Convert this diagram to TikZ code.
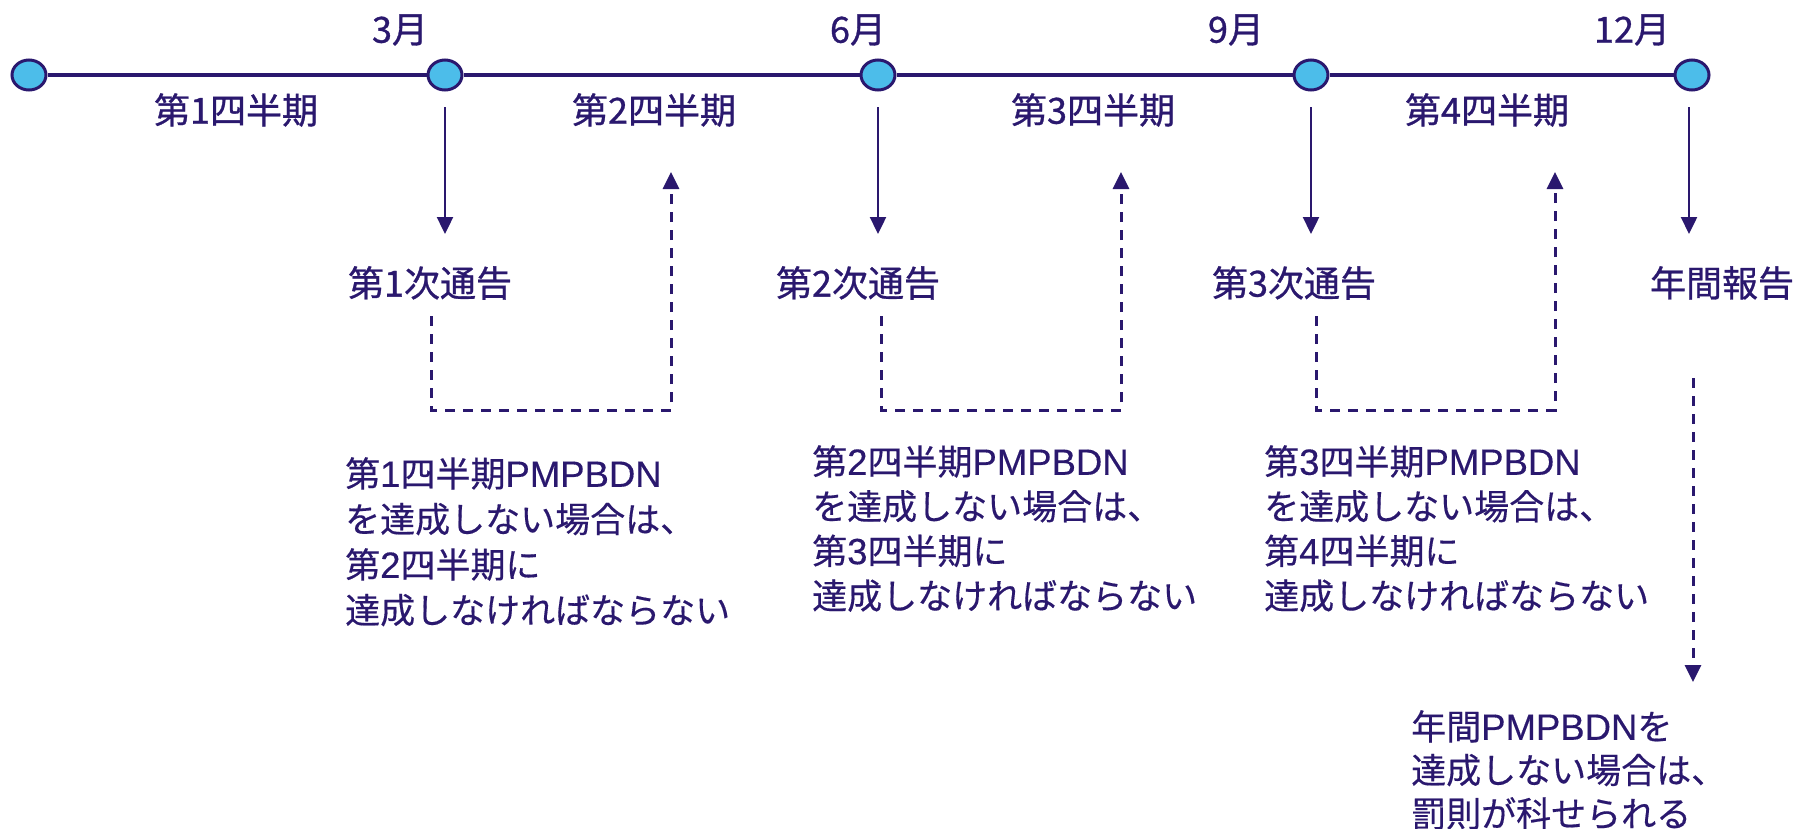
\documentclass[tikz,border=0pt]{standalone}
\usepackage{fontspec}
\setmainfont{Noto Sans CJK JP}
\newfontfamily\jp{Noto Sans CJK JP}[FakeBold=0.4]
\newfontfamily\jpt{Noto Sans CJK JP}[FakeBold=0.8]
\newfontfamily\lat{Liberation Sans}[FakeBold=0.3]
\usetikzlibrary{arrows.meta,shapes.geometric}
\definecolor{navy}{RGB}{42,24,110}
\definecolor{dotblue}{RGB}{76,189,234}
\begin{document}
\begin{tikzpicture}[x=1pt,y=-1pt,
  dotnode/.style={ellipse,draw=navy,fill=dotblue,line width=3pt,minimum width=34pt,minimum height=30pt,inner sep=0pt},
  tl/.style={draw=navy,line width=3.5pt},
  toplbl/.style={inner sep=0pt,text=navy,font=\jpt\fontsize{36}{40}\selectfont},
  blk/.style={anchor=north west,inner sep=0pt,align=left,text=navy},
  sarrow/.style={draw=navy,line width=2.4pt,-{Triangle[length=17pt,width=16pt]}},
  dline/.style={draw=navy,line width=3pt,dash pattern=on 10pt off 8pt},
  darrow/.style={dline,-{Triangle[length=17pt,width=16pt]}}]
\useasboundingbox (0,0) rectangle (1799,828);
% timeline
\node[dotnode] (c0) at (29,75) {};
\node[dotnode] (c1) at (445,75) {};
\node[dotnode] (c2) at (878,75) {};
\node[dotnode] (c3) at (1311,75) {};
\node[dotnode] (c4) at (1692,75) {};
\draw[tl] (c0) -- (c1);
\draw[tl] (c1) -- (c2);
\draw[tl] (c2) -- (c3);
\draw[tl] (c3) -- (c4);
% month labels
\node[toplbl] (m3) at (400,30) {3月};
\node[toplbl] (m6) at (858,30) {6月};
\node[toplbl] (m9) at (1236,30) {9月};
\node[toplbl] (m12) at (1632,30) {12月};
% quarter labels
\node[toplbl] (q1) at (236,110) {第1四半期};
\node[toplbl] (q2) at (654,110) {第2四半期};
\node[toplbl] (q3) at (1093,110) {第3四半期};
\node[toplbl] (q4) at (1487,110) {第4四半期};
% notices
\node[toplbl] (n1) at (430,283) {第1次通告};
\node[toplbl] (n2) at (858,283) {第2次通告};
\node[toplbl] (n3) at (1294,283) {第3次通告};
\node[toplbl] (n4) at (1722,283) {年間報告};
% solid arrows
\coordinate (t1) at (445,234);
\coordinate (t2) at (878,234);
\coordinate (t3) at (1311,234);
\coordinate (t4) at (1689,234);
\draw[sarrow] (c1) ++(0,32) -- (t1);
\draw[sarrow] (c2) ++(0,32) -- (t2);
\draw[sarrow] (c3) ++(0,32) -- (t3);
\draw[sarrow] (c4) ++(-3,32) -- (t4);
% dashed feedback paths
\coordinate (d1s) at (431,316); \coordinate (d1a) at (431,410); \coordinate (d1b) at (671,410); \coordinate (d1t) at (671,172);
\coordinate (d2s) at (881,316); \coordinate (d2a) at (881,410); \coordinate (d2b) at (1121,410); \coordinate (d2t) at (1121,172);
\coordinate (d3s) at (1316,316); \coordinate (d3a) at (1316,410); \coordinate (d3b) at (1555,410); \coordinate (d3t) at (1555,172);
\coordinate (d4s) at (1693,378); \coordinate (d4t) at (1693,682);
\draw[darrow] (d1s) -- (d1a) -- (d1b) -- (d1t);
\draw[darrow] (d2s) -- (d2a) -- (d2b) -- (d2t);
\draw[darrow] (d3s) -- (d3a) -- (d3b) -- (d3t);
\draw[darrow] (d4s) -- (d4t);
% text blocks
\node[blk,font=\jp\fontsize{35}{45.5}\selectfont] (b1) at (345,457)
  {第{\lat\fontsize{36.5}{45.5}\selectfont 1}四半期{\lat\fontsize{36.5}{45.5}\selectfont PMPBDN}\\
   を達成しない場合は、\\
   第{\lat\fontsize{36.5}{45.5}\selectfont 2}四半期に\\
   達成しなければならない};
\node[blk,font=\jp\fontsize{35}{44.7}\selectfont] (b2) at (812,445)
  {第{\lat\fontsize{36.5}{44.7}\selectfont 2}四半期{\lat\fontsize{36.5}{44.7}\selectfont PMPBDN}\\
   を達成しない場合は、\\
   第{\lat\fontsize{36.5}{44.7}\selectfont 3}四半期に\\
   達成しなければならない};
\node[blk,font=\jp\fontsize{35}{44.7}\selectfont] (b3) at (1264,445)
  {第{\lat\fontsize{36.5}{44.7}\selectfont 3}四半期{\lat\fontsize{36.5}{44.7}\selectfont PMPBDN}\\
   を達成しない場合は、\\
   第{\lat\fontsize{36.5}{44.7}\selectfont 4}四半期に\\
   達成しなければならない};
\node[blk,font=\jp\fontsize{35}{43.5}\selectfont] (b4) at (1411,710)
  {年間{\lat\fontsize{36.5}{43.5}\selectfont PMPBDN}を\\
   達成しない場合は、\\
   罰則が科せられる};
\end{tikzpicture}
\end{document}
